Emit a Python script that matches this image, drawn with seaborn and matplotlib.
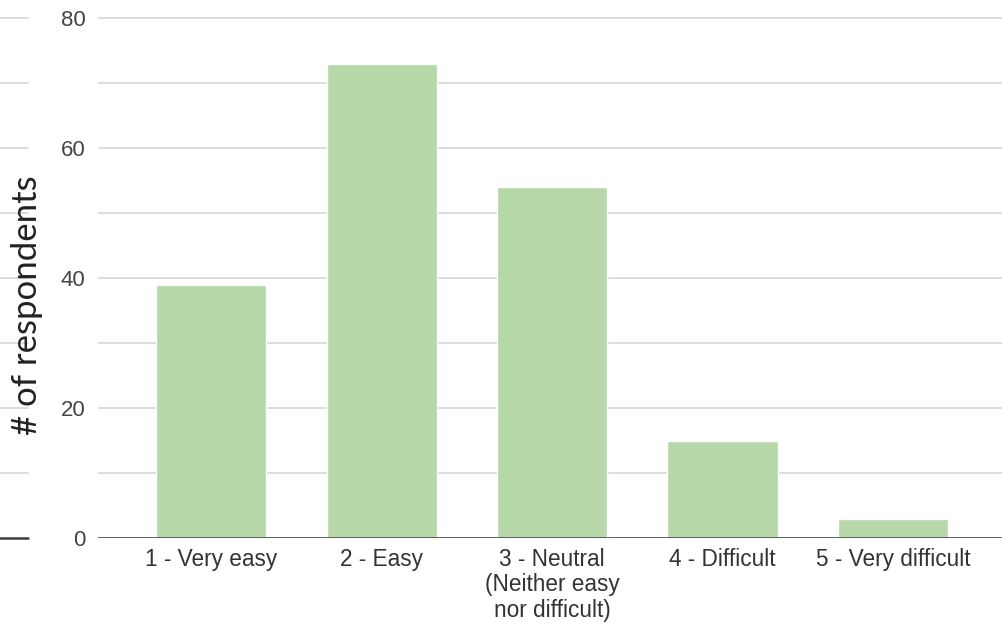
import matplotlib
matplotlib.use("Agg")
import matplotlib.pyplot as plt
import seaborn as sns
from matplotlib.ticker import MultipleLocator

categories = [
    "1 - Very easy",
    "2 - Easy",
    "3 - Neutral\n(Neither easy\nnor difficult)",
    "4 - Difficult",
    "5 - Very difficult",
]
respondents = [39, 73, 54, 15, 3]
y_ticks = [0, 20, 40, 60, 80]

sns.set_theme(style="white")
plt.rcParams["font.family"] = ["Liberation Sans", "DejaVu Sans"]

W, H = 1003, 627
fig = plt.figure(figsize=(W / 100, H / 100), dpi=100)
ax_left, ax_right = 98, 1003
ax_bottom_px, ax_top_px = 538, 11.5
ax = fig.add_axes([ax_left / W, 1 - ax_bottom_px / H,
                   (ax_right - ax_left) / W, (ax_bottom_px - ax_top_px) / H])

bar_color = "#b6d7a8"
sns.barplot(x=categories, y=respondents, color=bar_color, saturation=1,
            width=0.647, ax=ax, zorder=3)

ax.set_xlim(-0.665, 4.647)
ax.set_ylim(0, 81)
ax.set_yticks(y_ticks)
ax.yaxis.set_minor_locator(MultipleLocator(10))

grid_color = "#dadada"
ax.grid(axis="y", which="both", color=grid_color, linewidth=1.3, zorder=0)
ax.grid(axis="x", visible=False)
ax.set_axisbelow(True)

for s in ["top", "right", "left", "bottom"]:
    ax.spines[s].set_visible(False)
ax.axhline(0, color="#3c3c3c", linewidth=1.8, zorder=4)

# short stubs of the same rules at the far left edge
stub_lo, stub_hi = -ax_left / (ax_right - ax_left), (28 - ax_left) / (ax_right - ax_left)
for v in range(10, 81, 10):
    ax.axhline(v, xmin=stub_lo, xmax=stub_hi, color=grid_color, linewidth=1.3, clip_on=False)
ax.axhline(0, xmin=stub_lo, xmax=stub_hi, color="#3c3c3c", linewidth=1.8, clip_on=False)

ax.tick_params(axis="y", which="both", length=0, pad=9, labelsize=16, labelcolor="#444444")
ax.tick_params(axis="x", length=0, pad=7, labelsize=16.3, labelcolor="#333333")
for lbl in ax.get_xticklabels():
    lbl.set_linespacing(1.15)
    lbl.set_verticalalignment("top")

ax.set_xlabel("")
ax.set_ylabel("")
fig.text(27 / W, 1 - 305 / H, "# of respondents", rotation=90, ha="center", va="center",
         fontsize=25, color="#222222", family=["Lato", "DejaVu Sans"])

fig.savefig("out.png", dpi=100, facecolor="white")
